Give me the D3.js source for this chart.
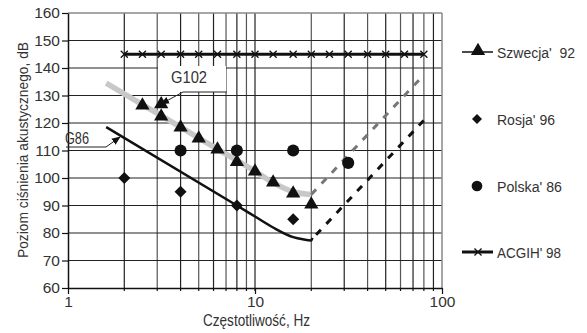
<!DOCTYPE html>
<html><head><meta charset="utf-8">
<script src="https://cdn.jsdelivr.net/npm/d3@7/dist/d3.min.js"></script>
<style>
html,body{margin:0;padding:0;background:#fff;}
svg{display:block;}
text{font-family:"Liberation Sans",Arial,sans-serif;fill:#333;}
</style></head>
<body>
<svg id="c" width="587" height="333"></svg>
<script>
// ---- data ----
const yTicks = [60,70,80,90,100,110,120,130,140,150,160];
const xTickLabels = [1,10,100];
const xGrid = [2,3,4,5,6,7,8,9,10,20,30,40,50,60,70,80,90];

const acgihF = [2,2.5,3.15,4,5,6.3,8,10,12.5,16,20,25,31.5,40,50,63,80];
const acgihV = [145,145,145,145,145,145,145,145,145,145,145,145,145,145,145,145,145];

const szwecjaF = [2.5,3.15,3.15,4,5,6.3,8,10,12.5,16,20];
const szwecjaV = [126,126.5,122,118,114,110,105.5,102,98,94,90];

const rosjaF = [2,4,8,16];
const rosjaV = [100,95,90,85];

const polskaF = [4,8,16,31.5];
const polskaV = [110,110,110,105.5];

const g102F = [1.6,2.5,4,6.3,10,12.5,16,20];
const g102V = [134.5,126.7,118.5,110.5,102.5,98.3,95,94];
const g102DashF = [20,80];
const g102DashV = [94,137.5];

const g86F = [1.6,8,10,12.5,16,18,20,20.3];
const g86V = [118.5,90,86,82,78.5,77.7,77.3,78.2];
const g86DashF = [20,80];
const g86DashV = [77.5,121];

const legendLabels = ["Szwecja'  92","Rosja' 96","Polska' 86","ACGIH' 98"];
const legendWidths = [78,58,65,64];

// ---- chart ----
const svg = d3.select("#c");
const x = d3.scaleLog().domain([1,100]).range([68,442]);
const y = d3.scaleLinear().domain([60,160]).range([288,13]);
const zip = (a,b)=>a.map((d,i)=>[d,b[i]]);
const line = d3.line().x(d=>x(d[0])).y(d=>y(d[1]));
const curve = d3.line().x(d=>x(d[0])).y(d=>y(d[1])).curve(d3.curveMonotoneX);

// grid
const g = svg.append("g");
g.selectAll("line.vg").data(xGrid).enter().append("line")
  .attr("x1",d=>x(d)).attr("x2",d=>x(d)).attr("y1",y(160)).attr("y2",y(60))
  .attr("stroke",(d,i)=>i%2?"#555":"#222").attr("stroke-width",1.2);
g.selectAll("line.hg").data(yTicks.slice(1,-1)).enter().append("line")
  .attr("x1",x(1)).attr("x2",x(100)).attr("y1",d=>y(d)).attr("y2",d=>y(d))
  .attr("stroke","#222").attr("stroke-width",1.2);
// frame top/right
svg.append("line").attr("x1",x(1)).attr("x2",x(100)).attr("y1",y(160)).attr("y2",y(160)).attr("stroke","#888").attr("stroke-width",1.5);
svg.append("line").attr("x1",x(100)).attr("x2",x(100)).attr("y1",y(160)).attr("y2",y(60)).attr("stroke","#888").attr("stroke-width",1.5);

// white label boxes
svg.append("rect").attr("x",158).attr("y",66).attr("width",68).attr("height",26).attr("fill","#fff");
svg.append("rect").attr("x",69).attr("y",129).attr("width",54).attr("height",20).attr("fill","#fff");

// axes
const yAxis = d3.axisLeft(y).tickValues(yTicks).tickSize(6).tickSizeOuter(0).tickPadding(2);
const ya = svg.append("g").attr("transform","translate(68,0)").call(yAxis);
ya.select(".domain").attr("stroke","#111").attr("stroke-width",1.5);
ya.selectAll(".tick line").attr("stroke","#111").attr("stroke-width",1.2);
ya.selectAll(".tick text").attr("font-size",15.5).attr("fill","#333")
  .attr("font-family","Liberation Sans, Arial, sans-serif");

const xAxis = d3.axisBottom(x).tickValues(xTickLabels).tickFormat(d3.format("d")).tickSize(6).tickSizeOuter(0).tickPadding(2);
const xa = svg.append("g").attr("transform","translate(0,288)").call(xAxis);
xa.select(".domain").attr("stroke","#111").attr("stroke-width",1.5);
xa.selectAll(".tick line").attr("stroke","#111").attr("stroke-width",1.2);
xa.selectAll(".tick text").attr("font-size",15.5).attr("fill","#333")
  .attr("font-family","Liberation Sans, Arial, sans-serif");
svg.append("g").selectAll("line").data(xGrid).enter().append("line")
  .attr("x1",d=>x(d)).attr("x2",d=>x(d)).attr("y1",288).attr("y2",291)
  .attr("stroke","#111").attr("stroke-width",1.2);

// axis titles
svg.append("text").attr("x",203).attr("y",326)
  .attr("font-size",17).attr("textLength",107).attr("lengthAdjust","spacingAndGlyphs").text("Częstotliwość, Hz");
svg.append("text").attr("transform","translate(28,258) rotate(-90)")
  .attr("font-size",15).attr("textLength",216).attr("lengthAdjust","spacingAndGlyphs").text("Poziom ciśnienia akustycznego, dB");

// series lines
svg.append("path").datum(zip(g102F,g102V)).attr("d",curve)
  .attr("fill","none").attr("stroke","#c8c8c8").attr("stroke-width",5.5);
svg.append("path").datum(zip(g102DashF,g102DashV)).attr("d",line)
  .attr("fill","none").attr("stroke","#777").attr("stroke-width",3).attr("stroke-dasharray","7,8");
svg.append("path").datum(zip(g86F,g86V)).attr("d",curve)
  .attr("fill","none").attr("stroke","#111").attr("stroke-width",2.5);
svg.append("path").datum(zip(g86DashF,g86DashV)).attr("d",line)
  .attr("fill","none").attr("stroke","#111").attr("stroke-width",3).attr("stroke-dasharray","7,8").attr("stroke-dashoffset",8);

// ACGIH
svg.append("path").datum(zip(acgihF,acgihV)).attr("d",line)
  .attr("fill","none").attr("stroke","#111").attr("stroke-width",3);
const xMark = d3.symbol().type(d3.symbolX).size(34);
svg.append("g").selectAll("path").data(zip(acgihF,acgihV)).enter().append("path")
  .attr("d",xMark).attr("transform",d=>`translate(${x(d[0])},${y(d[1])})`)
  .attr("fill","none").attr("stroke","#111").attr("stroke-width",1.3);

// markers
const tri = d3.symbol().type(d3.symbolTriangle).size(88);
const dia = d3.symbol().type(d3.symbolSquare).size(72);
const cir = d3.symbol().type(d3.symbolCircle).size(115);
svg.append("g").selectAll("path").data(zip(polskaF,polskaV)).enter().append("path")
  .attr("d",cir).attr("transform",d=>`translate(${x(d[0])},${y(d[1])})`).attr("fill","#111");
svg.append("g").selectAll("path").data(zip(rosjaF,rosjaV)).enter().append("path")
  .attr("d",dia).attr("transform",d=>`translate(${x(d[0])},${y(d[1])}) rotate(45)`).attr("fill","#111");
svg.append("g").selectAll("path").data(zip(szwecjaF,szwecjaV)).enter().append("path")
  .attr("d",tri).attr("transform",d=>`translate(${x(d[0])},${y(d[1])-1})`).attr("fill","#111");

// annotations
svg.append("defs").append("marker").attr("id","arr").attr("viewBox","0 0 10 10")
  .attr("refX",9).attr("refY",5).attr("markerWidth",9).attr("markerHeight",9).attr("orient","auto")
  .append("path").attr("d","M0,1 L10,5 L0,9 Z").attr("fill","#111");
svg.append("text").attr("x",171).attr("y",83).attr("font-size",16)
  .attr("textLength",36).attr("lengthAdjust","spacingAndGlyphs").text("G102");
svg.append("path").attr("d","M227,92 L183,92 L161,104").attr("fill","none").attr("stroke","#222")
  .attr("stroke-width",1).attr("marker-end","url(#arr)");
svg.append("text").attr("x",65).attr("y",144).attr("font-size",16)
  .attr("textLength",24).attr("lengthAdjust","spacingAndGlyphs").text("G86");
svg.append("path").attr("d","M66,147 L106,147 L120,137").attr("fill","none").attr("stroke","#222")
  .attr("stroke-width",1).attr("marker-end","url(#arr)");

// legend
const legY = [52,119,186,252];
const lg = svg.append("g");
lg.append("line").attr("x1",462).attr("x2",493).attr("y1",legY[0]).attr("y2",legY[0]).attr("stroke","#111").attr("stroke-width",1.5);
lg.append("path").attr("d",tri).attr("transform",`translate(478,${legY[0]-1})`).attr("fill","#111");
lg.append("path").attr("d",d3.symbol().type(d3.symbolSquare).size(50)).attr("transform",`translate(477,${legY[1]}) rotate(45)`).attr("fill","#111");
lg.append("path").attr("d",d3.symbol().type(d3.symbolCircle).size(90)).attr("transform",`translate(477,${legY[2]})`).attr("fill","#111");
lg.append("line").attr("x1",462).attr("x2",493).attr("y1",legY[3]).attr("y2",legY[3]).attr("stroke","#111").attr("stroke-width",3);
lg.append("path").attr("d",xMark).attr("transform",`translate(478,${legY[3]})`).attr("fill","none").attr("stroke","#111").attr("stroke-width",1.3);
lg.selectAll("text").data(legendLabels).enter().append("text")
  .attr("x",497).attr("y",(d,i)=>legY[i]+6).attr("font-size",15.5)
  .attr("textLength",(d,i)=>legendWidths[i]).attr("lengthAdjust","spacingAndGlyphs")
  .attr("xml:space","preserve").style("white-space","pre").text(d=>d);
</script>
</body></html>
